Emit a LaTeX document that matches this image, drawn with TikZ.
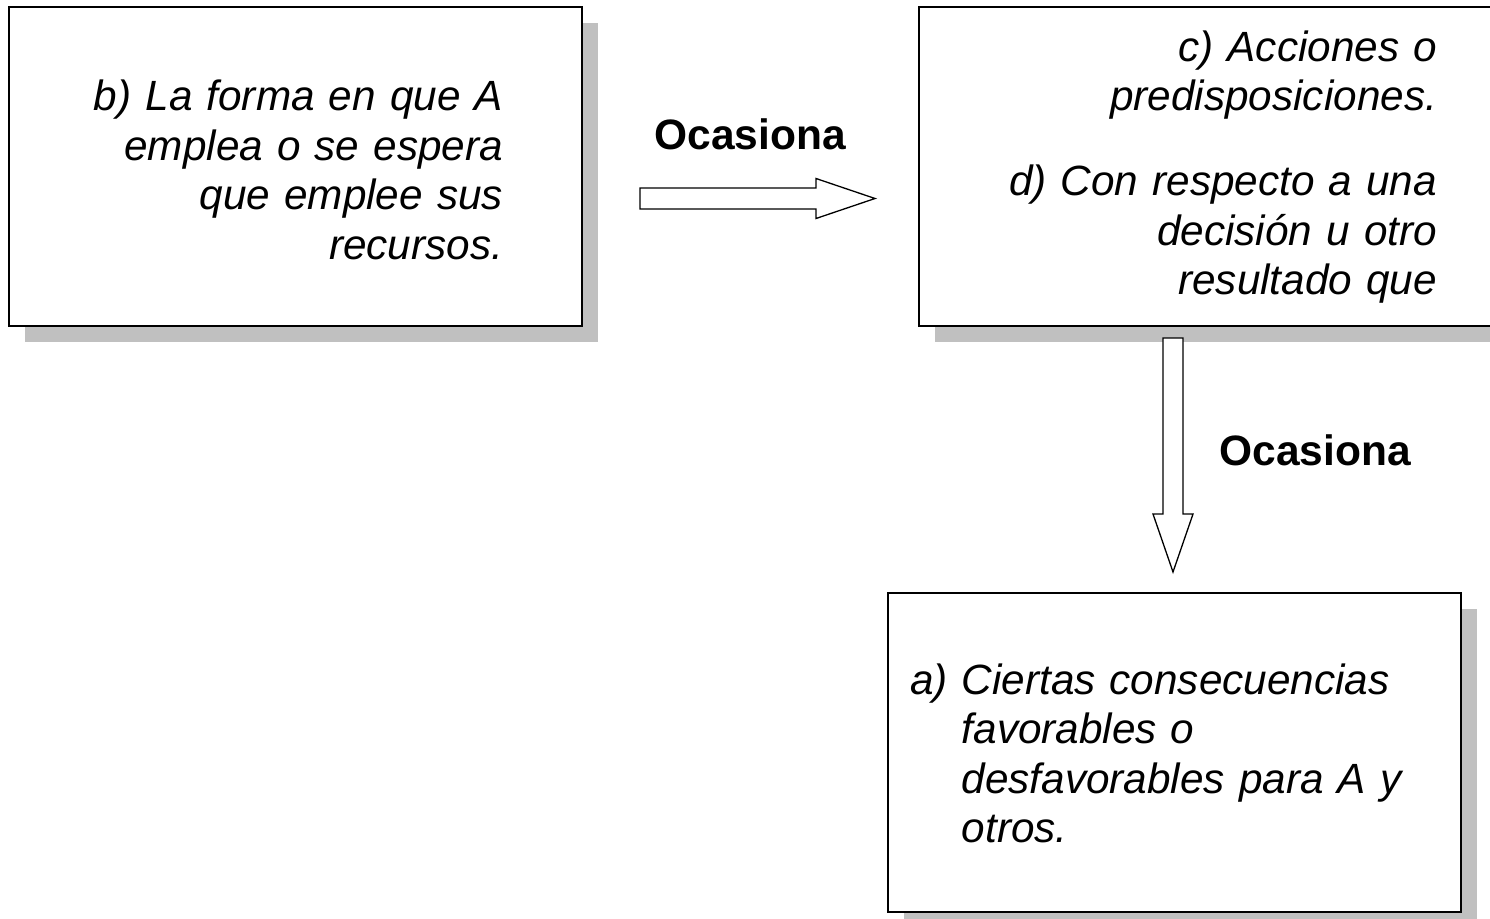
\documentclass[tikz,border=0pt]{standalone}
\usepackage{fontspec}
\setmainfont{Liberation Sans}
\usetikzlibrary{calc,shadows}
\definecolor{shadowgray}{RGB}{192,192,192}
\newcommand\txtfnt{\fontsize{42.3}{49.5}\selectfont\itshape\fontdimen2\font=9.3pt\fontdimen3\font=2pt\fontdimen4\font=2pt\relax}
\begin{document}
\begin{tikzpicture}[x=1pt,y=-1pt,
  box/.style={draw=black, line width=1.6pt, fill=white, rectangle,
    minimum width=573pt, minimum height=319pt, inner sep=0pt,
    general shadow={fill=shadowgray, draw=none, shadow xshift=16pt, shadow yshift=-16pt}},
  txt/.style={inner sep=0pt, font=\txtfnt},
  lbl/.style={font=\fontsize{42.5}{49.5}\selectfont\bfseries, inner sep=0pt, anchor=base},
  blockarrow/.style={draw=black, line width=1.3pt, fill=white, line join=miter}]
\useasboundingbox (0,0) rectangle (1490,918);
\clip (0,0) rectangle (1490,918);

\node[box] (B) at (295.5,166.5) {};
\node[box] (C) at (1205.5,166.5) {};
\node[box] (A) at (1174.5,752.5) {};

\node[txt, text width=415pt, align=right] (Bt) at ($(B.center)+(0,3.5)$)
  {b) La forma en que A\\emplea o se espera\\que emplee sus\\recursos.};
\node[txt, text width=463pt, align=right] (Ct) at ($(C.center)+(0,0.5)$)
  {c) Acciones o\\predisposiciones.\\[35.5pt]d) Con respecto a una\\decisi\'on u otro\\resultado que};
\node[txt, text width=529pt, align=left] (At) at ($(A.center)+(0,1)$)
  {a) Ciertas consecuencias\\\hphantom{a)\ }favorables o\\\hphantom{a)\ }desfavorables para A y\\\hphantom{a)\ }otros.};

\coordinate (r1) at (640,198.5);
\coordinate (r2) at (875,198.5);
\draw[blockarrow] ($(r1)+(0,-10.5)$) -- ($(r2)+(-59,-10.5)$) -- ($(r2)+(-59,-20)$) -- (r2)
  -- ($(r2)+(-59,20)$) -- ($(r2)+(-59,10.5)$) -- ($(r1)+(0,10.5)$) -- cycle;

\coordinate (d1) at (1173,338);
\coordinate (d2) at (1173,572);
\draw[blockarrow] ($(d1)+(-10,0)$) -- ($(d2)+(-10,-58)$) -- ($(d2)+(-20,-58)$) -- (d2)
  -- ($(d2)+(20,-58)$) -- ($(d2)+(10,-58)$) -- ($(d1)+(10,0)$) -- cycle;

\node[lbl] (o1) at (750,149) {Ocasiona};
\node[lbl] (o2) at (1315,465) {Ocasiona};
\end{tikzpicture}
\end{document}
